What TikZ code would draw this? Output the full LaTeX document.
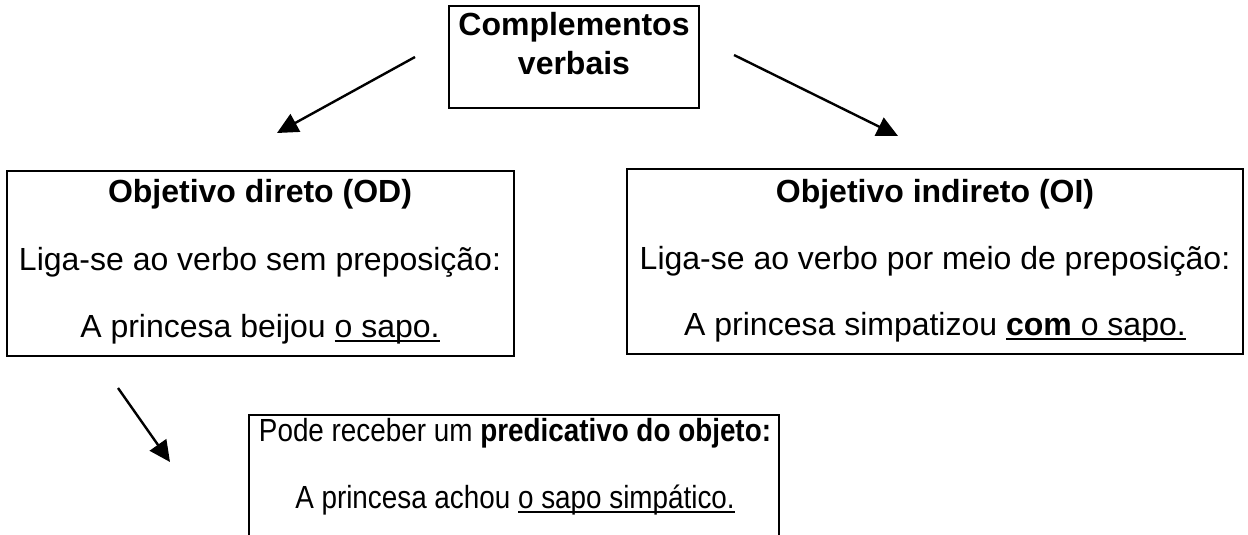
\documentclass[tikz,border=0pt]{standalone}
\usepackage{graphicx}
\usepackage{fontspec}
\setmainfont{Liberation Sans}
\usetikzlibrary{arrows.meta,fit}

\newsavebox\ulbox
\newcommand\uln[1]{\sbox\ulbox{#1}\rlap{\rule[-2.5pt]{\wd\ulbox}{1.1pt}}\usebox\ulbox}
\newcommand\narrowtxt[1]{\scalebox{0.87}[1]{#1}}

\begin{document}
\begin{tikzpicture}
  [x=0.5pt,y=-0.5pt,
   box/.style={draw,line width=1pt,inner sep=0pt},
   txt/.style={anchor=base,inner sep=0pt,font=\fontsize{16}{19}\selectfont},
   arr/.style={line width=1.2pt,-{Triangle[length=10.5pt,width=10pt]}}]
  \useasboundingbox (0,0) rectangle (1248,535);

  % boxes
  \node[box,fit={(449,6) (699,108)}] (cv) {};
  \node[box,fit={(7,171) (514,356)}] (od) {};
  \node[box,fit={(627,169) (1243,354)}] (oi) {};
  % the last box runs off the page: no bottom edge
  \node[inner sep=0pt,fit={(249,415) (779,545)}] (po) {};
  \draw[line width=1pt] (po.south west) |- (po.north east) -- (po.south east);

  % texts
  \node[txt] (cv1) at (574,36) {\bfseries Complementos};
  \node[txt] (cv2) at (574,75) {\bfseries verbais};

  \node[txt] (od1) at (260,203) {\bfseries Objetivo direto (OD)};
  \node[txt] (od2) at (260,270) {Liga-se ao verbo sem preposição:};
  \node[txt] (od3) at (260,337) {A princesa beijou \uln{o sapo.}};

  \node[txt] (oi1) at (935,203) {\bfseries Objetivo indireto (OI)};
  \node[txt] (oi2) at (935,269) {Liga-se ao verbo por meio de preposição:};
  \node[txt] (oi3) at (935,335) {A princesa simpatizou \uln{\textbf{com} o sapo.}};

  \node[txt] (po1) at (515,441) {\narrowtxt{Pode receber um \textbf{predicativo do objeto:}}};
  \node[txt] (po2) at (515,508) {\narrowtxt{A princesa achou \uln{o sapo simpático.}}};

  % arrows
  \coordinate (cv-l) at (415,57);
  \coordinate (od-in) at (277,133);
  \coordinate (cv-r) at (734,55);
  \coordinate (oi-in) at (898,136);
  \coordinate (od-out) at (118,388);
  \coordinate (po-in) at (170,462);

  \foreach \from/\to in {cv-l/od-in,cv-r/oi-in,od-out/po-in}
    \draw[arr] (\from) -- (\to);

\end{tikzpicture}
\end{document}
